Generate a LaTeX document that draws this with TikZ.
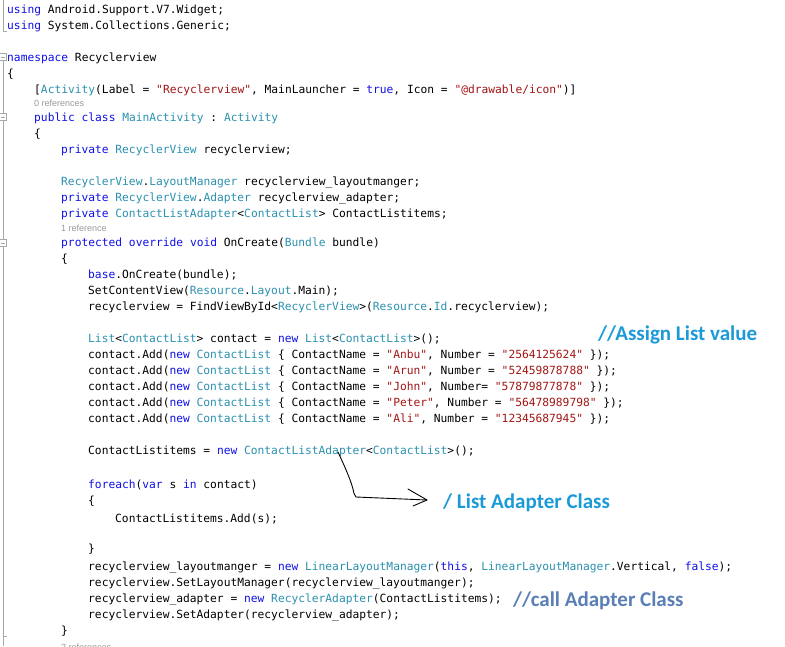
\documentclass[tikz,border=0pt]{standalone}
\usepackage{fontspec}
\setmonofont{DejaVu Sans Mono}
\newfontfamily\notefont{Carlito}
\newfontfamily\reffont{Liberation Sans}
\usetikzlibrary{arrows.meta}
\definecolor{kw}{HTML}{1010E8}
\definecolor{ty}{HTML}{2B91AF}
\definecolor{str}{HTML}{A31515}
\definecolor{gut}{HTML}{A8A8A8}
\definecolor{refgray}{HTML}{9A9A9A}
\definecolor{noteblue}{HTML}{1C9AD8}
\definecolor{notesteel}{HTML}{5A7EB6}
\newcommand\KW[1]{\textcolor{kw}{#1}}
\newcommand\TY[1]{\textcolor{ty}{#1}}
\newcommand\STR[1]{\textcolor{str}{#1}}
\tikzset{
  codeln/.style={anchor=base west, inner sep=0pt, text=black,
    font=\ttfamily\frenchspacing\fontsize{11.26pt}{14pt}\selectfont},
  refln/.style={anchor=base west, inner sep=0pt, text=refgray,
    font=\reffont\fontsize{9pt}{11pt}\selectfont},
  notebig/.style={anchor=base west, inner sep=0pt,
    font=\notefont\bfseries\fontsize{21pt}{25pt}\selectfont},
  gutline/.style={draw=gut, line width=0.8pt},
  gutbox/.style={draw=gut, line width=0.8pt, fill=white},
  handline/.style={draw=black, line width=0.9pt, line cap=round, line join=round}
}
\begin{document}
\begin{tikzpicture}[x=1pt,y=-1pt]
\useasboundingbox (0,0) rectangle (785,646);
\fill[white] (0,0) rectangle (785,646);

% gutter (outlining)
\draw[gutline] (3,0) -- (3,31) -- (6.5,31);
\draw[gutline] (3,60.5) -- (3,113.5);
\draw[gutline] (3,120.5) -- (3,239.5);
\draw[gutline] (3,246.5) -- (3,646);
\draw[gutline] (3,636) -- (7,636);
\draw[gutbox] (-0.5,53.5) rectangle (6.5,60.5);
\draw[gutline] (1,57) -- (5,57);
\draw[gutbox] (-0.5,113.5) rectangle (6.5,120.5);
\draw[gutline] (1,117) -- (5,117);
\draw[gutbox] (-0.5,239.5) rectangle (6.5,246.5);
\draw[gutline] (1,243) -- (5,243);

% code
\node[codeln] (c01) at (7,13) {\KW{using} Android.Support.V7.Widget;};
\node[codeln] (c02) at (7,29) {\KW{using} System.Collections.Generic;};
\node[codeln] (c03) at (7,61) {\KW{namespace} Recyclerview};
\node[codeln] (c04) at (7,77) {\{};
\node[codeln] (c05) at (34,93) {[\TY{Activity}(Label = \STR{"Recyclerview"}, MainLauncher = \KW{true}, Icon = \STR{"@drawable/icon"})]};
\node[refln] (r1) at (34,106) {0 references};
\node[codeln] (c06) at (34,121) {\KW{public} \KW{class} \TY{MainActivity} : \TY{Activity}};
\node[codeln] (c07) at (34,137) {\{};
\node[codeln] (c08) at (61,153) {\KW{private} \TY{RecyclerView} recyclerview;};
\node[codeln] (c09) at (61,185) {\TY{RecyclerView}.\TY{LayoutManager} recyclerview\_layoutmanger;};
\node[codeln] (c10) at (61,201) {\KW{private} \TY{RecyclerView}.\TY{Adapter} recyclerview\_adapter;};
\node[codeln] (c11) at (61,217) {\KW{private} \TY{ContactListAdapter}<\TY{ContactList}> ContactListitems;};
\node[refln] (r2) at (61,231) {1 reference};
\node[codeln] (c12) at (61,246) {\KW{protected} \KW{override} \KW{void} OnCreate(\TY{Bundle} bundle)};
\node[codeln] (c13) at (61,262) {\{};
\node[codeln] (c14) at (88,278) {\KW{base}.OnCreate(bundle);};
\node[codeln] (c15) at (88,294) {SetContentView(\TY{Resource}.\TY{Layout}.Main);};
\node[codeln] (c16) at (88,310) {recyclerview = FindViewById<\TY{RecyclerView}>(\TY{Resource}.\TY{Id}.recyclerview);};
\node[codeln] (c17) at (88,342) {\TY{List}<\TY{ContactList}> contact = \KW{new} \TY{List}<\TY{ContactList}>();};
\node[codeln] (c18) at (88,358) {contact.Add(\KW{new} \TY{ContactList} \{ ContactName = \STR{"Anbu"}, Number = \STR{"2564125624"} \});};
\node[codeln] (c19) at (88,374) {contact.Add(\KW{new} \TY{ContactList} \{ ContactName = \STR{"Arun"}, Number = \STR{"52459878788"} \});};
\node[codeln] (c20) at (88,390) {contact.Add(\KW{new} \TY{ContactList} \{ ContactName = \STR{"John"}, Number= \STR{"57879877878"} \});};
\node[codeln] (c21) at (88,406) {contact.Add(\KW{new} \TY{ContactList} \{ ContactName = \STR{"Peter"}, Number = \STR{"56478989798"} \});};
\node[codeln] (c22) at (88,422) {contact.Add(\KW{new} \TY{ContactList} \{ ContactName = \STR{"Ali"}, Number = \STR{"12345687945"} \});};
\node[codeln] (c23) at (88,454) {ContactListitems = \KW{new} \TY{ContactListAdapter}<\TY{ContactList}>();};
\node[codeln] (c24) at (88,488) {\KW{foreach}(\KW{var} s \KW{in} contact)};
\node[codeln] (c25) at (88,504) {\{};
\node[codeln] (c26) at (115,522) {ContactListitems.Add(s);};
\node[codeln] (c27) at (88,552) {\}};
\node[codeln] (c28) at (88,570) {recyclerview\_layoutmanger = \KW{new} \TY{LinearLayoutManager}(\KW{this}, \TY{LinearLayoutManager}.Vertical, \KW{false});};
\node[codeln] (c29) at (88,586) {recyclerview.SetLayoutManager(recyclerview\_layoutmanger);};
\node[codeln] (c30) at (88,602) {recyclerview\_adapter = \KW{new} \TY{RecyclerAdapter}(ContactListitems);};
\node[codeln] (c31) at (88,618) {recyclerview.SetAdapter(recyclerview\_adapter);};
\node[codeln] (c32) at (61,634) {\}};
\node[refln] (r3) at (61,650) {2 references};

% annotations
\node[notebig, text=noteblue] (n1) at (598,340) {//Assign List value};
\node[notebig, text=noteblue] (n2) at (443,508) {/ List Adapter Class};
\node[notebig, text=notesteel] (n3) at (513,606) {//call Adapter Class};

% hand-drawn arrow
\coordinate (hs) at (338,452);
\coordinate (hb) at (356,497);
\coordinate (he) at (427,500);
\draw[handline] (hs) .. controls (344,465) and (350,478) .. (353,489)
  .. controls (354,494) .. (hb) -- (he);
\draw[handline] (he) ++(-19,-11) -- (he) -- ++(-14,6);
\end{tikzpicture}
\end{document}
